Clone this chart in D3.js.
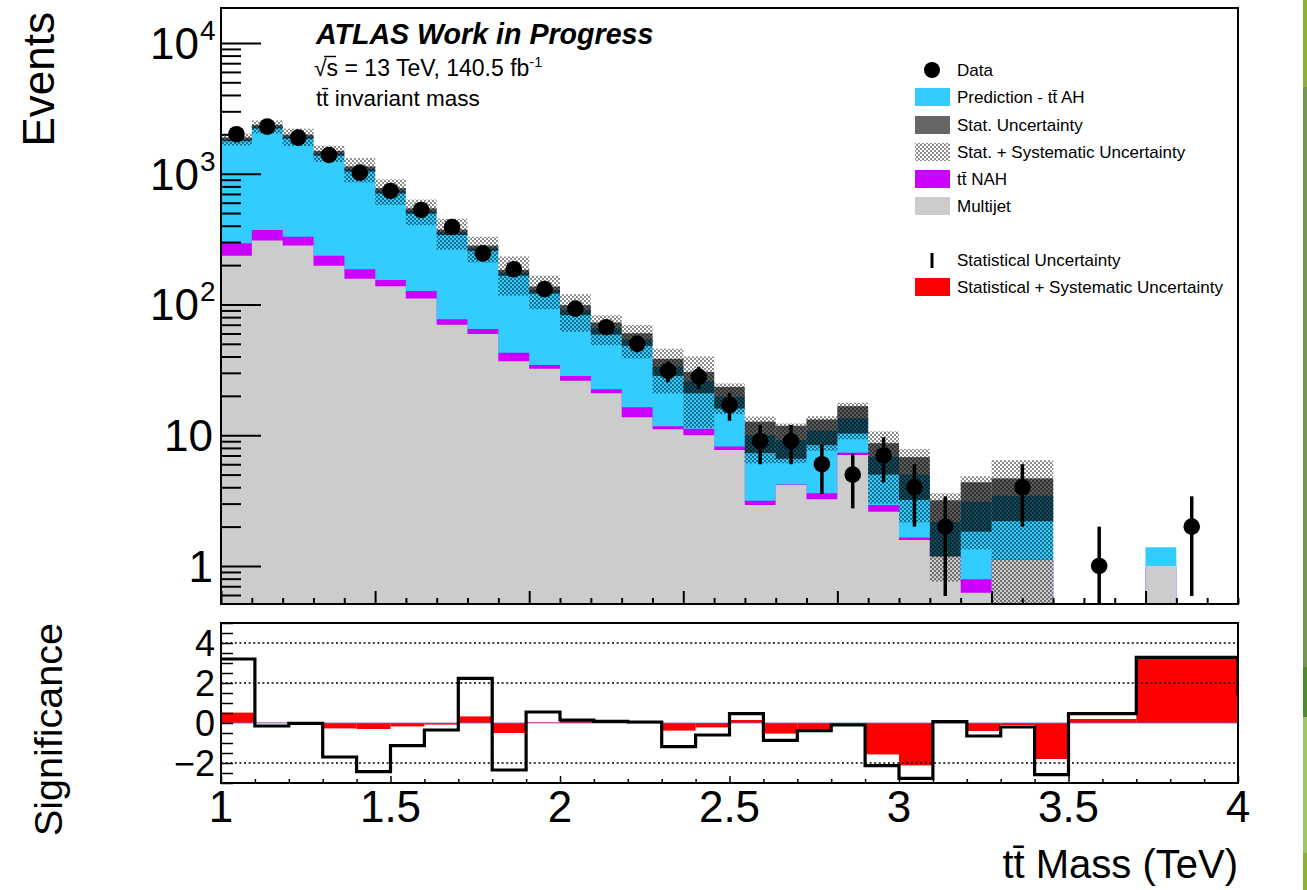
<!DOCTYPE html>
<html>
<head>
<meta charset="utf-8">
<script src="https://cdn.jsdelivr.net/npm/d3@7"></script>
<style>
    body { margin: 0; background: #fff; }
    svg { display: block; font-family: "Liberation Sans", Arial, Helvetica, sans-serif; }
</style>
</head>
<body>
<div id="chart"></div>
<script>
// DATA

// Upper panel binning in TeV (bins 25 and 26 of the original histogram are merged)
const mainEdges = [1.000, 1.091, 1.182, 1.273, 1.364, 1.455, 1.545, 1.636, 1.727, 1.818, 1.909,
    2.000, 2.091, 2.182, 2.273, 2.364, 2.455, 2.545, 2.636, 2.727, 2.818, 2.909,
    3.000, 3.091, 3.182, 3.273, 3.455, 3.545, 3.636, 3.727, 3.818, 3.909, 4.000];
const multijet = [236, 308, 282, 198, 157, 138, 111, 70, 59.5, 36.8, 32.3, 26.1, 20.9, 13.7, 11.1, 10.0,
    7.7, 2.93, 4.17, 3.24, 7.06, 2.60, 1.58, 1.2, 0.625, 1.12, 0, 0, 0, 1.0, 0, 0];
const ttNAH = [58, 63, 48, 38, 29, 16, 16, 7, 5.5, 6.0, 2.2, 2.3, 1.6, 2.7, 0.6, 1.2,
    0.5, 0.23, 0.03, 0.36, 0.3, 0.33, 0.07, 0, 0.165, 0.01, 0, 0, 0, 0, 0, 0];
const ttAH = [1540, 1919, 1590, 1197, 901, 587, 392, 280, 204, 132, 94.5, 62.4, 43.3, 37.8, 21.7, 14.5,
    11.5, 6.84, 5.0, 7.2, 6.14, 3.92, 3.35, 0.98, 2.31, 2.31, 0, 0, 0, 0.39, 0, 0];
const statErr = [60, 75, 70, 60, 50, 35, 25, 17, 13, 9, 8, 8, 7, 6, 5, 4.8,
    3.7, 2.7, 2.6, 2.4, 3.2, 1.85, 1.8, 1.0, 1.27, 1.24, 0, 0, 0, 0, 0, 0];
const totErr = [190, 260, 290, 205, 230, 165, 115, 95, 60, 58, 37, 29, 17, 15.5, 12.5, 14.3,
    5.2, 3.9, 3.1, 3.2, 4.2, 3.85, 2.85, 1.42, 1.76, 3.0, 0, 0, 0, 0, 0, 0];
const dataCounts = [2004, 2290, 1888, 1391, 1019, 738, 528, 391, 246, 186, 131, 93, 67, 50, 31, 28,
    17, 9, 9, 6, 5, 7, 4, 2, null, 4, null, 1, null, null, 2, null];
const dataErr = [45, 48, 43, 37, 32, 27, 23, 20, 16, 14, 11, 10, 8, 7, 5.6, 5.3,
    4.1, 3, 3, 2.45, 2.24, 2.65, 2, 1.41, null, 2, null, 1, null, null, 1.41, null];

// Lower panel (significance) binning in TeV
const sigEdges = [1.0, 1.1, 1.2, 1.3, 1.4, 1.5, 1.6, 1.7, 1.8, 1.9, 2.0, 2.1, 2.2, 2.3, 2.4,
    2.5, 2.6, 2.7, 2.8, 2.9, 3.0, 3.1, 3.2, 3.3, 3.4, 3.5, 3.7, 4.0];
const sigData = [3.2, -0.15, -0.02, -1.7, -2.43, -1.13, -0.35, 2.23, -2.35, 0.55, 0.15, 0.08, 0.05, -1.18,
    -0.6, 0.47, -0.87, -0.38, -0.1, -2.13, -2.77, 0.07, -0.65, -0.2, -2.58, 0.47, 3.28];
const sigSyst = [0.52, 0.02, 0.0, -0.27, -0.3, -0.17, -0.08, 0.33, -0.5, 0.03, 0.1, 0.05, 0.02, -0.38,
    -0.22, 0.15, -0.53, -0.33, -0.05, -1.57, -2.12, 0.02, -0.4, -0.1, -1.8, 0.2, 3.28];
// Where the outline ends on the right edge
const sigTail = 1.4;

// Axis ticks and labels
const xTickValues = [1, 1.5, 2, 2.5, 3, 3.5, 4];
const xTickLabels = ["1", "1.5", "2", "2.5", "3", "3.5", "4"];
const yDecades = [1, 10, 100, 1000, 10000];
const yDecadeBase = ["1", "10", "10", "10", "10"];
const yDecadeExp = ["", "", "2", "3", "4"];
const sigTickValues = [4, 2, 0, -2];
const sigTickLabels = ["4", "2", "0", "\u22122"];
const sigGridValues = [4, 2, -2];

// Legend entries
const legendLabels = ["Data", "Prediction - tt\u0304 AH", "Stat. Uncertainty", "Stat. + Systematic Uncertainty",
    "tt\u0304 NAH", "Multijet", "Statistical Uncertainty", "Statistical + Systematic Uncertainty"];
const legendRows = [70, 97, 125, 152, 179, 206, 260, 287];


// SETTINGS

const W = 1307, H = 890;
const FRAME_L = 221, FRAME_R = 1238;
const MAIN_T = 8, MAIN_B = 604;
const SIG_T = 623, SIG_B = 783;
const COL_AH = "#33ccff", COL_NAH = "#cc00ff", COL_MJ = "#cccccc", COL_RED = "#ff0000";
const FONT_TICK = 44, FONT_TITLE = 40;

const svg = d3.select("#chart").append("svg")
    .attr("width", W)
    .attr("height", H);

const defs = svg.append("defs");

// Fine checkerboard used for the stat + syst band
const pat = defs.append("pattern")
    .attr("id", "chk")
    .attr("width", 4).attr("height", 4)
    .attr("patternUnits", "userSpaceOnUse");
pat.append("rect").attr("x", 0).attr("y", 0).attr("width", 2).attr("height", 2).attr("fill", "#000").attr("fill-opacity", 0.45);
pat.append("rect").attr("x", 2).attr("y", 2).attr("width", 2).attr("height", 2).attr("fill", "#000").attr("fill-opacity", 0.45);

defs.append("clipPath").attr("id", "clipMain")
    .append("rect").attr("x", FRAME_L).attr("y", MAIN_T).attr("width", FRAME_R - FRAME_L).attr("height", MAIN_B - MAIN_T);
defs.append("clipPath").attr("id", "clipSig")
    .append("rect").attr("x", FRAME_L).attr("y", SIG_T).attr("width", FRAME_R - FRAME_L).attr("height", SIG_B - SIG_T);

// Scales
const x = d3.scaleLinear().domain([1, 4]).range([FRAME_L, FRAME_R]);
const xBin = d3.scaleLinear().domain([0, 33]).range([FRAME_L, FRAME_R]);
const y = d3.scaleLog().domain([0.512, 18500]).range([MAIN_B, MAIN_T]);
const ys = d3.scaleLinear().domain([-3, 5]).range([SIG_B, SIG_T]);

const yMin = y.domain()[0];
const yc = v => y(Math.max(v, yMin * 0.5));



// UPPER PANEL

const bins = multijet.map((mj, i) => {
    const nahTop = mj + ttNAH[i];
    const total = nahTop + ttAH[i];
    return {
        x0: mainEdges[i], x1: mainEdges[i + 1],
        mj: mj, nahTop: nahTop, total: total,
        stat: statErr[i], tot: totErr[i],
        data: dataCounts[i], err: dataErr[i]
    };
});

const gMain = svg.append("g").attr("clip-path", "url(#clipMain)");

// Each stack layer is one step-shaped area, so there are no seams between bins
const stepArea = d3.area()
    .x(d => d[0])
    .y0(MAIN_B + 2)
    .y1(d => d[1]);

function stepPoints(key) {
    const p = [];
    bins.forEach(d => {
        const v = d[key] > 0 ? yc(d[key]) : MAIN_B + 2;
        p.push([x(d.x0), v]);
        p.push([x(d.x1), v]);
    });
    return p;
}
function stackLayer(key, color) {
    gMain.append("path")
        .attr("d", stepArea(stepPoints(key)))
        .attr("fill", color);
}
stackLayer("total", COL_AH);
stackLayer("nahTop", COL_NAH);
stackLayer("mj", COL_MJ);

// Stat + syst band (checkerboard)
gMain.append("g").selectAll("rect")
    .data(bins.filter(d => d.tot > 0))
    .join("rect")
    .attr("x", d => x(d.x0))
    .attr("width", d => x(d.x1) - x(d.x0))
    .attr("y", d => yc(d.total + d.tot))
    .attr("height", d => yc(d.total - d.tot) - yc(d.total + d.tot))
    .attr("fill", "url(#chk)");

// Stat band (dark, semi transparent)
gMain.append("g").selectAll("rect")
    .data(bins.filter(d => d.stat > 0))
    .join("rect")
    .attr("x", d => x(d.x0))
    .attr("width", d => x(d.x1) - x(d.x0))
    .attr("y", d => yc(d.total + d.stat))
    .attr("height", d => yc(d.total - d.stat) - yc(d.total + d.stat))
    .attr("fill", "#000")
    .attr("fill-opacity", 0.64);

// Data points with error bars
const pts = bins.filter(d => d.data !== null);
gMain.append("g").selectAll("line")
    .data(pts)
    .join("line")
    .attr("x1", d => x((d.x0 + d.x1) / 2))
    .attr("x2", d => x((d.x0 + d.x1) / 2))
    .attr("y1", d => yc(d.data + d.err))
    .attr("y2", d => yc(d.data - d.err))
    .attr("stroke", "#000")
    .attr("stroke-width", 3.5);
gMain.append("g").selectAll("circle")
    .data(pts)
    .join("circle")
    .attr("cx", d => x((d.x0 + d.x1) / 2))
    .attr("cy", d => y(d.data))
    .attr("r", 8.3)
    .attr("fill", "#000");

// Upper panel axes (ticks point inwards)
const axMainX = svg.append("g")
    .attr("transform", `translate(0,${MAIN_B})`)
    .call(d3.axisBottom(xBin).tickValues(d3.range(0, 34)).tickSize(-6).tickFormat(""));
axMainX.selectAll(".tick line")
    .attr("y2", d => d % 5 === 0 ? -13 : -6)
    .attr("stroke-width", 2);
axMainX.select(".domain").remove();

const axMainY = svg.append("g")
    .attr("transform", `translate(${FRAME_L},0)`)
    .call(d3.axisLeft(y).tickSize(-20).tickFormat(""));
axMainY.selectAll(".tick line")
    .attr("x2", d => yDecades.includes(d) ? 40 : 20)
    .attr("stroke-width", 2);
axMainY.select(".domain").remove();

svg.append("g").selectAll("text")
    .data(yDecades)
    .join("text")
    .attr("x", (d, i) => yDecadeExp[i] ? 199 : 213)
    .attr("y", d => y(d) + 16)
    .attr("text-anchor", "end")
    .attr("font-size", FONT_TICK)
    .text((d, i) => yDecadeBase[i]);
svg.append("g").selectAll("text")
    .data(yDecades.filter((d, i) => yDecadeExp[i]))
    .join("text")
    .attr("x", 200)
    .attr("y", d => y(d) - 3)
    .attr("font-size", 28)
    .text(d => yDecadeExp[yDecades.indexOf(d)]);

svg.append("rect")
    .attr("x", FRAME_L).attr("y", MAIN_T)
    .attr("width", FRAME_R - FRAME_L).attr("height", MAIN_B - MAIN_T)
    .attr("fill", "none").attr("stroke", "#000").attr("stroke-width", 2);

svg.append("text")
    .attr("transform", `translate(54,12) rotate(-90)`)
    .attr("text-anchor", "end")
    .attr("font-size", 44)
    .text("Events");

// Labels
svg.append("text")
    .attr("x", 316).attr("y", 44)
    .attr("font-size", 28.6).attr("font-weight", "bold").attr("font-style", "italic")
    .text("ATLAS Work in Progress");
const lumi = svg.append("text").attr("x", 314).attr("y", 76).attr("font-size", 23);
lumi.append("tspan").text("\u221As = 13 TeV, 140.5 fb");
lumi.append("tspan").attr("dy", -9).attr("font-size", 14.5).text("-1");
// bar of the square root over "s"
svg.append("line")
    .attr("x1", 324).attr("x2", 336)
    .attr("y1", 56.5).attr("y2", 56.5)
    .attr("stroke", "#000").attr("stroke-width", 1.4);
svg.append("text")
    .attr("x", 316).attr("y", 106).attr("font-size", 22.5)
    .text("tt\u0304 invariant mass");

// Legend
const leg = svg.append("g").selectAll("g")
    .data(legendLabels)
    .join("g")
    .attr("transform", (d, i) => `translate(0,${legendRows[i]})`);
leg.append("text")
    .attr("x", 957).attr("y", 6)
    .attr("font-size", 17)
    .text(d => d);
leg.each(function (d, i) {
    const g = d3.select(this);
    if (i === 0) {
        g.append("circle").attr("cx", 932).attr("cy", 0).attr("r", 8).attr("fill", "#000");
    } else if (i === 6) {
        g.append("line").attr("x1", 932).attr("x2", 932).attr("y1", -7).attr("y2", 8)
            .attr("stroke", "#000").attr("stroke-width", 3);
    } else {
        const fill = [null, COL_AH, "#666", "url(#chk)", COL_NAH, COL_MJ, null, COL_RED][i];
        g.append("rect").attr("x", 915).attr("y", -9).attr("width", 35).attr("height", 18).attr("fill", fill);
    }
});



// LOWER PANEL

const sigBins = sigData.map((v, i) => ({ x0: sigEdges[i], x1: sigEdges[i + 1], v: v, s: sigSyst[i] }));
const gSig = svg.append("g").attr("clip-path", "url(#clipSig)");

gSig.append("g").selectAll("rect")
    .data(sigBins)
    .join("rect")
    .attr("x", d => x(d.x0))
    .attr("width", d => x(d.x1) - x(d.x0))
    .attr("y", d => Math.min(ys(0), ys(d.s)))
    .attr("height", d => Math.abs(ys(d.s) - ys(0)))
    .attr("fill", COL_RED);

gSig.append("line")
    .attr("x1", FRAME_L).attr("x2", FRAME_R)
    .attr("y1", ys(0)).attr("y2", ys(0))
    .attr("stroke", "#6a6ad8").attr("stroke-width", 1).attr("stroke-opacity", 0.8);

gSig.append("g").selectAll("line")
    .data(sigGridValues)
    .join("line")
    .attr("x1", FRAME_L).attr("x2", FRAME_R)
    .attr("y1", d => ys(d)).attr("y2", d => ys(d))
    .attr("stroke", "#000").attr("stroke-width", 1.3).attr("stroke-dasharray", "2,2.6");

const sigPts = [];
sigBins.forEach(d => { sigPts.push([x(d.x0), ys(d.v)]); sigPts.push([x(d.x1), ys(d.v)]); });
sigPts.push([x(4), ys(sigTail)]);
gSig.append("path")
    .attr("d", d3.line()(sigPts))
    .attr("fill", "none")
    .attr("stroke", "#000")
    .attr("stroke-width", 3.2);

const axSigX = svg.append("g")
    .attr("transform", `translate(0,${SIG_B})`)
    .call(d3.axisBottom(x).tickValues(d3.range(10, 41).map(v => v / 10)).tickSize(-4).tickFormat(""));
axSigX.selectAll(".tick line")
    .attr("y2", d => Math.abs(d * 2 - Math.round(d * 2)) < 1e-6 ? -7 : -4)
    .attr("stroke-width", 1.5);
axSigX.select(".domain").remove();

const axSigY = svg.append("g")
    .attr("transform", `translate(${FRAME_L},0)`)
    .call(d3.axisLeft(ys).tickValues(d3.range(-6, 11).map(v => v / 2)).tickSize(-12).tickFormat(""));
axSigY.selectAll(".tick line").attr("stroke-width", 1.5);
axSigY.select(".domain").remove();

svg.append("rect")
    .attr("x", FRAME_L).attr("y", SIG_T)
    .attr("width", FRAME_R - FRAME_L).attr("height", SIG_B - SIG_T)
    .attr("fill", "none").attr("stroke", "#000").attr("stroke-width", 2);

// kept a little smaller so the four labels do not touch
svg.append("g").selectAll("text")
    .data(sigTickValues)
    .join("text")
    .attr("x", 215)
    .attr("y", d => ys(d) + 13)
    .attr("text-anchor", "end")
    .attr("font-size", 36)
    .text((d, i) => sigTickLabels[i]);

svg.append("g").selectAll("text")
    .data(xTickValues)
    .join("text")
    .attr("x", d => x(d))
    .attr("y", 822)
    .attr("text-anchor", "middle")
    .attr("font-size", FONT_TICK)
    .text((d, i) => xTickLabels[i]);

svg.append("text")
    .attr("transform", `translate(62,623) rotate(-90)`)
    .attr("text-anchor", "end")
    .attr("font-size", 39.5)
    .text("Significance");

svg.append("text")
    .attr("x", FRAME_R).attr("y", 878)
    .attr("text-anchor", "end")
    .attr("font-size", FONT_TITLE)
    .text("tt\u0304 Mass (TeV)");

// Green page edge at the far right
const edge = [[0, 87, "#86b432"], [87, 667, "#6b9a4e"], [667, 717, "#4f8a2c"], [717, 853, "#9cc862"], [853, 890, "#86b432"]];
svg.append("g").selectAll("rect")
    .data(edge)
    .join("rect")
    .attr("x", 1303).attr("width", 4)
    .attr("y", d => d[0]).attr("height", d => d[1] - d[0])
    .attr("fill", d => d[2]);
</script>
</body>
</html>
